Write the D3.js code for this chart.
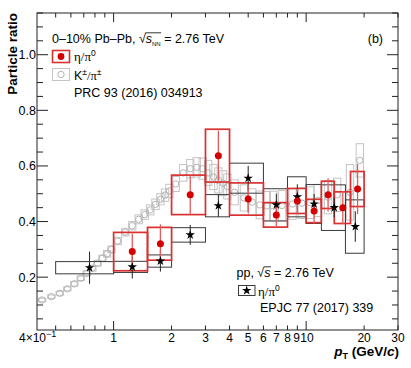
<!DOCTYPE html>
<html><head><meta charset="utf-8">
<script src="https://cdn.jsdelivr.net/npm/d3@7"></script>
<style>body{margin:0;background:#fff}svg{display:block}text{font-family:"Liberation Sans",Arial,sans-serif}</style>
</head><body><svg id="c" width="411" height="368"></svg>
<script>
// ---- data ----
// Pb-Pb eta/pi0 (0-10%)
const pbLo   = [1.0, 1.5, 2.0, 3.0, 4.0, 6.0, 8.0, 10.0, 12.0, 14.0, 17.0];
const pbHi   = [1.5, 2.0, 3.0, 4.0, 6.0, 8.0, 10.0, 12.0, 14.0, 17.0, 20.0];
const pbPt   = [1.25, 1.75, 2.5, 3.5, 5.0, 7.0, 9.0, 11.0, 13.0, 15.5, 18.5];
const pbVal  = [0.292, 0.320, 0.496, 0.637, 0.481, 0.424, 0.474, 0.438, 0.496, 0.450, 0.517];
const pbStat = [0.065, 0.070, 0.070, 0.090, 0.050, 0.040, 0.045, 0.045, 0.060, 0.060, 0.090];
const pbSys  = [0.069, 0.059, 0.071, 0.095, 0.058, 0.044, 0.045, 0.042, 0.049, 0.057, 0.063];
// pp eta/pi0
const ppLo   = [0.5, 1.0, 1.5, 2.0, 3.0, 4.0, 6.0, 8.0, 10.0, 12.0, 16.0];
const ppHi   = [1.0, 1.5, 2.0, 3.0, 4.0, 6.0, 8.0, 10.0, 12.0, 16.0, 20.0];
const ppPt   = [0.75, 1.25, 1.75, 2.5, 3.5, 5.0, 7.0, 9.0, 11.0, 14.0, 18.0];
const ppVal  = [0.234, 0.237, 0.258, 0.352, 0.457, 0.556, 0.460, 0.489, 0.463, 0.450, 0.382];
const ppStat = [0.058, 0.042, 0.038, 0.036, 0.040, 0.044, 0.040, 0.045, 0.036, 0.035, 0.055];
const ppSys  = [0.022, 0.020, 0.022, 0.026, 0.040, 0.054, 0.058, 0.072, 0.070, 0.082, 0.096];
// K/pi (0-10% Pb-Pb)
const kpPt  = [0.425,0.475,0.525,0.575,0.625,0.675,0.725,0.775,0.825,0.875,0.925,0.975,
               1.05,1.15,1.25,1.35,1.45,1.55,1.65,1.75,1.85,1.95,2.1,2.3,2.5,2.7,2.9,
               3.1,3.3,3.5,3.7,3.9,4.25,4.75,5.25,5.75,6.25,6.75,7.5,8.5,9.5,10.5,11.5,13.0,14.5,16.9,19.0];
const kpVal = [0.118,0.130,0.142,0.158,0.176,0.196,0.214,0.232,0.250,0.268,0.284,0.300,
               0.330,0.362,0.385,0.408,0.425,0.442,0.462,0.480,0.495,0.510,0.535,0.575,0.590,0.595,0.590,
               0.575,0.560,0.548,0.538,0.526,0.505,0.485,0.470,0.460,0.456,0.456,0.458,0.463,0.466,0.468,0.476,0.488,0.496,0.505,0.620];
const kpSys = [0.006,0.006,0.007,0.007,0.008,0.008,0.009,0.010,0.010,0.011,0.012,0.012,
               0.013,0.014,0.015,0.016,0.017,0.018,0.019,0.020,0.022,0.024,0.027,0.030,0.033,0.035,0.038,
               0.045,0.045,0.045,0.045,0.045,0.045,0.047,0.048,0.050,0.052,0.053,0.054,0.055,0.055,0.057,0.058,0.060,0.060,0.100,0.060];
const yMajor = [0.2, 0.4, 0.6, 0.8, 1.0];
const yMajorLabels = ["0.2", "0.4", "0.6", "0.8", "1.0"];
const xMajor = [1, 10];
const xMinor = [0.5,0.6,0.7,0.8,0.9,2,3,4,5,6,7,8,9,20,30];
const xLabelVals = [1,2,3,4,5,6,7,8,9,10,20,30];

// ---- layout ----
const svg = d3.select("#c");
const L = 37, R = 398, T = 13, B = 330;
const x = d3.scaleLog().domain([0.4, 30]).range([L, R]);
const y = d3.scaleLinear().domain([0.01, 1.15]).range([B, T]);
const kw = 1.045;

const red = "#d40000", redBox = "#d93030", redErr = "#e35a5a";
const grey = "#b4b4b4";

svg.append("rect").attr("width",411).attr("height",368).attr("fill","#fff");

const plot = svg.append("g");
// K/pi boxes + circles
plot.selectAll(".kb").data(kpPt).join("rect")
  .attr("x", d => x(d/kw)).attr("width", d => x(d*kw)-x(d/kw))
  .attr("y", (d,i) => y(kpVal[i]+kpSys[i])).attr("height", (d,i) => y(kpVal[i]-kpSys[i]) - y(kpVal[i]+kpSys[i]))
  .attr("fill","none").attr("stroke","#c4c4c4").attr("stroke-width",1);
plot.selectAll(".kc").data(kpPt).join("circle")
  .attr("cx", d => x(d)).attr("cy", (d,i) => y(kpVal[i])).attr("r", 3.2)
  .attr("fill","none").attr("stroke",grey).attr("stroke-width",1);

// pp boxes
plot.selectAll(".pb").data(ppPt).join("rect")
  .attr("x", (d,i) => x(ppLo[i])).attr("width", (d,i) => x(ppHi[i]) - x(ppLo[i]))
  .attr("y", (d,i) => y(ppVal[i]+ppSys[i])).attr("height", (d,i) => y(ppVal[i]-ppSys[i]) - y(ppVal[i]+ppSys[i]))
  .attr("fill","none").attr("stroke","#3a3a3a").attr("stroke-width",1);
// PbPb boxes
plot.selectAll(".rb").data(pbPt).join("rect")
  .attr("x", (d,i) => x(pbLo[i])).attr("width", (d,i) => x(pbHi[i]) - x(pbLo[i]))
  .attr("y", (d,i) => y(pbVal[i]+pbSys[i])).attr("height", (d,i) => y(pbVal[i]-pbSys[i]) - y(pbVal[i]+pbSys[i]))
  .attr("fill","none").attr("stroke",redBox).attr("stroke-width",1.7);
// error bars
plot.selectAll(".pe").data(ppPt).join("line")
  .attr("x1", d => x(d)).attr("x2", d => x(d))
  .attr("y1", (d,i) => y(ppVal[i]+ppStat[i])).attr("y2", (d,i) => y(ppVal[i]-ppStat[i]))
  .attr("stroke","#222").attr("stroke-width",1);
plot.selectAll(".re").data(pbPt).join("line")
  .attr("x1", d => x(d)).attr("x2", d => x(d))
  .attr("y1", (d,i) => y(pbVal[i]+pbStat[i])).attr("y2", (d,i) => y(pbVal[i]-pbStat[i]))
  .attr("stroke",redErr).attr("stroke-width",1.3);
// markers
const star = d3.symbol().type(d3.symbolStar).size(28);
plot.selectAll(".ps").data(ppPt).join("path")
  .attr("d", star).attr("transform", (d,i) => `translate(${x(d)},${y(ppVal[i])})`)
  .attr("fill","#000");
plot.selectAll(".rc").data(pbPt).join("circle")
  .attr("cx", d => x(d)).attr("cy", (d,i) => y(pbVal[i])).attr("r", 3.5)
  .attr("fill",red);

// ---- frame & ticks ----
const ax = svg.append("g").attr("stroke","#222").attr("stroke-width",1);
ax.append("rect").attr("x",L).attr("y",T).attr("width",R-L).attr("height",B-T).attr("fill","none");
const yMinor = d3.range(0.05, 1.151, 0.05).filter(v => !yMajor.some(m => Math.abs(m-v) < 1e-6));
yMajor.forEach(v => {
  ax.append("line").attr("x1",L).attr("x2",L+11).attr("y1",y(v)).attr("y2",y(v));
  ax.append("line").attr("x1",R).attr("x2",R-11).attr("y1",y(v)).attr("y2",y(v));
});
yMinor.forEach(v => {
  ax.append("line").attr("x1",L).attr("x2",L+6).attr("y1",y(v)).attr("y2",y(v));
  ax.append("line").attr("x1",R).attr("x2",R-6).attr("y1",y(v)).attr("y2",y(v));
});
xMajor.forEach(v => {
  ax.append("line").attr("x1",x(v)).attr("x2",x(v)).attr("y1",B).attr("y2",B-9);
  ax.append("line").attr("x1",x(v)).attr("x2",x(v)).attr("y1",T).attr("y2",T+9);
});
xMinor.forEach(v => {
  ax.append("line").attr("x1",x(v)).attr("x2",x(v)).attr("y1",B).attr("y2",B-4.5);
  ax.append("line").attr("x1",x(v)).attr("x2",x(v)).attr("y1",T).attr("y2",T+4.5);
});

// labels
const fs = 12.5;
yMajor.forEach((v,i) => {
  svg.append("text").attr("x",36).attr("y",y(v)+4.5).attr("text-anchor","end")
    .attr("font-size",fs).text(yMajorLabels[i]);
});
xLabelVals.forEach(v => {
  const nudge = v === 9 ? -0.8 : (v === 10 ? 0.9 : 0);
  svg.append("text").attr("x",x(v)+nudge).attr("y",342).attr("text-anchor","middle")
    .attr("font-size",12).text(String(v));
});
const t4 = svg.append("text").attr("x",19).attr("y",342).attr("font-size",12);
t4.append("tspan").text("4×10");
t4.append("tspan").attr("dy",-5).attr("font-size",9).text("−1");

// axis titles
svg.append("text").attr("transform","translate(17,13) rotate(-90)").attr("text-anchor","end")
  .attr("font-size",13.5).attr("font-weight","bold").text("Particle ratio");
const xt = svg.append("text").attr("x",399).attr("y",356).attr("text-anchor","end")
  .attr("font-size",13.5).attr("font-weight","bold");
xt.append("tspan").attr("font-style","italic").text("p");
xt.append("tspan").attr("dy",3).attr("font-size",9).text("T");
xt.append("tspan").attr("dy",-3).text(" (GeV/");
xt.append("tspan").attr("font-style","italic").text("c");
xt.append("tspan").text(")");

// ---- legends ----
const greekFont = "'Liberation Serif','DejaVu Serif',serif";
function sqrtText(g, xx, yy, before, sym, sub, after) {
  const t = g.append("text").attr("x",xx).attr("y",yy).attr("font-size",fs);
  t.append("tspan").text(before);
  t.append("tspan").text("√");
  t.append("tspan").attr("font-style","italic").text(sym);
  if (sub) t.append("tspan").attr("dy",2.5).attr("font-size",6).text(sub);
  t.append("tspan").attr("dy", sub ? -2.5 : 0).text(after);
  // overline for the radical
  const n = t.node();
  const i0 = before.length;           // index of √
  const iEnd = before.length + 1 + sym.length + (sub ? sub.length : 0) - 1;
  const xs = n.getEndPositionOfChar(i0).x - 0.5;
  const xe = n.getEndPositionOfChar(iEnd).x + 0.5;
  g.append("line").attr("x1",xs).attr("x2",xe).attr("y1",yy-10.2).attr("y2",yy-10.2)
    .attr("stroke","#000").attr("stroke-width",0.8);
  return t;
}
sqrtText(svg, 52, 43, "0–10% Pb–Pb, ", "s", "NN", " = 2.76 TeV");
svg.append("text").attr("x",383).attr("y",43).attr("text-anchor","end").attr("font-size",fs).text("(b)");

// legend entries
svg.append("rect").attr("x",52.5).attr("y",50.5).attr("width",17).attr("height",12)
  .attr("fill","none").attr("stroke",redBox).attr("stroke-width",1.6);
svg.append("circle").attr("cx",61).attr("cy",56.5).attr("r",3.4).attr("fill",red);
const e1 = svg.append("text").attr("x",74).attr("y",61).attr("font-size",13);
e1.append("tspan").attr("font-family",greekFont).text("η/π");
e1.append("tspan").attr("dy",-5).attr("font-size",8.5).text("0");

svg.append("rect").attr("x",52.5).attr("y",68.5).attr("width",17).attr("height",12)
  .attr("fill","none").attr("stroke","#c4c4c4");
svg.append("circle").attr("cx",61).attr("cy",74.5).attr("r",3.2).attr("fill","none").attr("stroke",grey);
const e2 = svg.append("text").attr("x",74).attr("y",80).attr("font-size",fs);
e2.append("tspan").text("K");
e2.append("tspan").attr("dy",-5).attr("font-size",8.5).text("±");
e2.append("tspan").attr("dy",5).attr("font-family",greekFont).text("/π");
e2.append("tspan").attr("dy",-5).attr("font-size",8.5).text("±");
svg.append("text").attr("x",74).attr("y",97).attr("font-size",fs).text("PRC 93 (2016) 034913");

sqrtText(svg, 236.5, 277, "pp, ", "s", null, " = 2.76 TeV");
svg.append("rect").attr("x",238.5).attr("y",285.5).attr("width",16.5).attr("height",10)
  .attr("fill","none").attr("stroke","#3a3a3a");
svg.append("path").attr("d",star).attr("transform","translate(246.7,290.5)").attr("fill","#000");
const e3 = svg.append("text").attr("x",258).attr("y",296).attr("font-size",13);
e3.append("tspan").attr("font-family",greekFont).text("η/π");
e3.append("tspan").attr("dy",-5).attr("font-size",8.5).text("0");
svg.append("text").attr("x",260).attr("y",312).attr("font-size",fs).text("EPJC 77 (2017) 339");
</script></body></html>
